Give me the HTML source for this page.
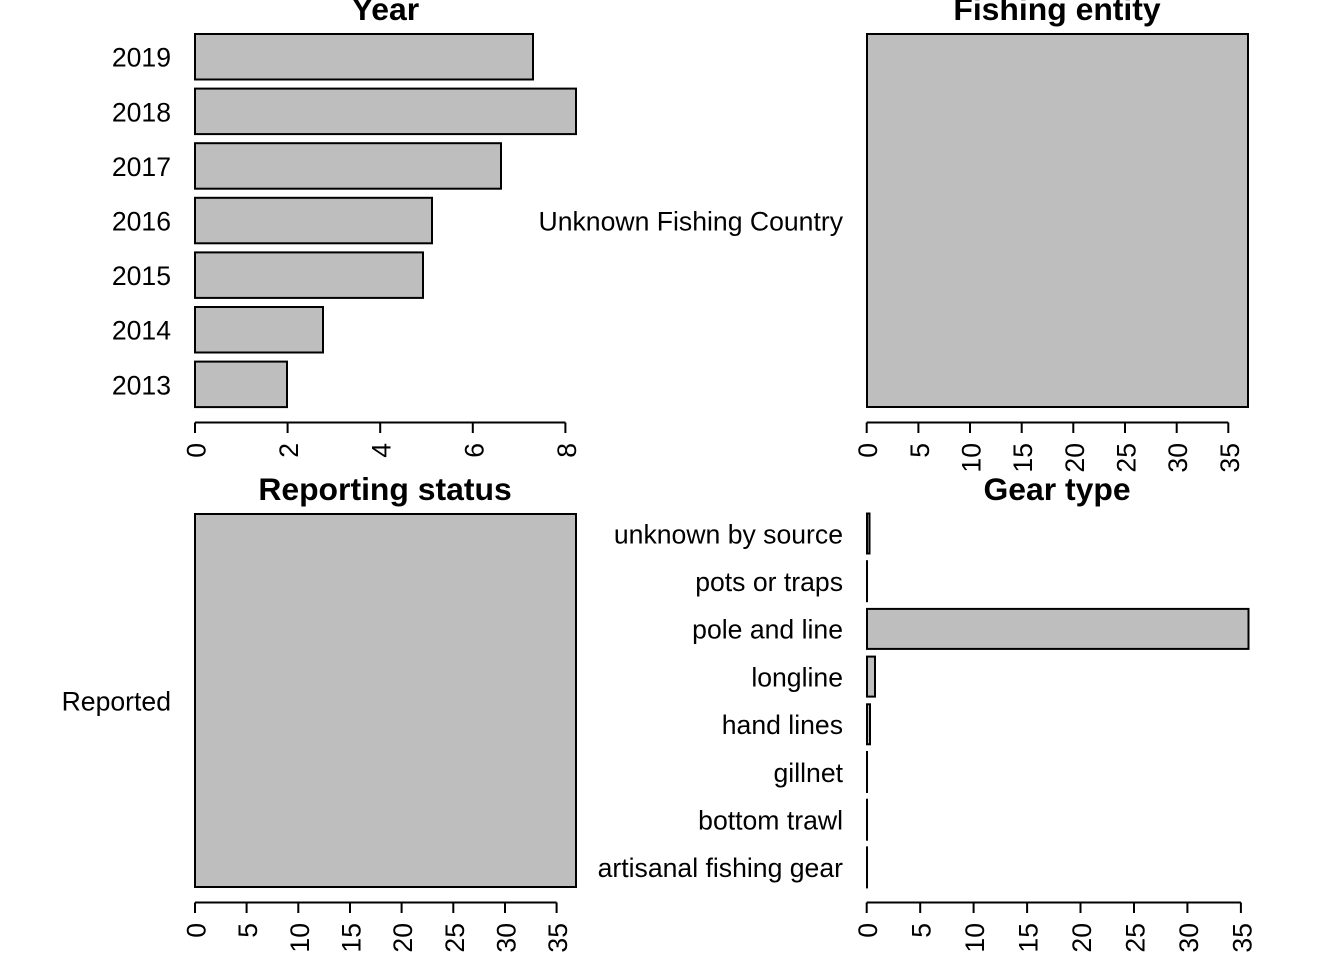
<!DOCTYPE html>
<html>
<head>
<meta charset="utf-8">
<style>
  html, body { margin: 0; padding: 0; background: #ffffff; }
  svg { display: block; }
  text { font-family: "Liberation Sans", Arial, Helvetica, sans-serif; fill: #000; }
  .lab { font-size: 26.6px; }
  .title { font-size: 31.9px; font-weight: bold; }
  .bar { fill: #bebebe; stroke: #000; stroke-width: 2; }
  .ax { stroke: #000; stroke-width: 2; fill: none; }
</style>
</head>
<body>
<svg width="1344" height="960" viewBox="0 0 1344 960" xmlns="http://www.w3.org/2000/svg">
  <rect x="0" y="0" width="1344" height="960" fill="#ffffff"/>

  <!-- ===== Panel 1: Year ===== -->
  <text class="title" x="385.5" y="20" text-anchor="middle">Year</text>
  <rect class="bar" x="195" y="34" width="338" height="45.5"/>
  <rect class="bar" x="195" y="88.6" width="381" height="45.5"/>
  <rect class="bar" x="195" y="143.2" width="306" height="45.5"/>
  <rect class="bar" x="195" y="197.8" width="237" height="45.5"/>
  <rect class="bar" x="195" y="252.4" width="228" height="45.5"/>
  <rect class="bar" x="195" y="307" width="128" height="45.5"/>
  <rect class="bar" x="195" y="361.6" width="92" height="45.5"/>
  <g class="lab" text-anchor="end">
    <text x="171" y="66.7">2019</text>
    <text x="171" y="121.3">2018</text>
    <text x="171" y="175.9">2017</text>
    <text x="171" y="230.5">2016</text>
    <text x="171" y="285.1">2015</text>
    <text x="171" y="339.7">2014</text>
    <text x="171" y="394.3">2013</text>
  </g>
  <path class="ax" d="M195 422.5 H565.4 M195 422.5 V433 M287.6 422.5 V433 M380.2 422.5 V433 M472.8 422.5 V433 M565.4 422.5 V433"/>
  <g class="lab" text-anchor="end">
    <text transform="translate(205.5,443) rotate(-90)">0</text>
    <text transform="translate(298.1,443) rotate(-90)">2</text>
    <text transform="translate(390.7,443) rotate(-90)">4</text>
    <text transform="translate(483.3,443) rotate(-90)">6</text>
    <text transform="translate(575.9,443) rotate(-90)">8</text>
  </g>

  <!-- ===== Panel 2: Fishing entity ===== -->
  <text class="title" x="1057" y="20" text-anchor="middle">Fishing entity</text>
  <rect class="bar" x="867" y="34" width="381" height="373"/>
  <text class="lab" x="843" y="230.5" text-anchor="end">Unknown Fishing Country</text>
  <path class="ax" d="M866.7 422.5 H1228.3 M866.7 422.5 V433 M918.4 422.5 V433 M970 422.5 V433 M1021.7 422.5 V433 M1073.3 422.5 V433 M1125 422.5 V433 M1176.7 422.5 V433 M1228.3 422.5 V433"/>
  <g class="lab" text-anchor="end">
    <text transform="translate(877.2,443) rotate(-90)">0</text>
    <text transform="translate(928.9,443) rotate(-90)">5</text>
    <text transform="translate(980.5,443) rotate(-90)">10</text>
    <text transform="translate(1032.2,443) rotate(-90)">15</text>
    <text transform="translate(1083.8,443) rotate(-90)">20</text>
    <text transform="translate(1135.5,443) rotate(-90)">25</text>
    <text transform="translate(1187.2,443) rotate(-90)">30</text>
    <text transform="translate(1238.8,443) rotate(-90)">35</text>
  </g>

  <!-- ===== Panel 3: Reporting status ===== -->
  <text class="title" x="385" y="500" text-anchor="middle">Reporting status</text>
  <rect class="bar" x="195" y="514" width="381" height="373"/>
  <text class="lab" x="171" y="710.7" text-anchor="end">Reported</text>
  <path class="ax" d="M195 902.5 H556.6 M195 902.5 V913 M246.6 902.5 V913 M298.3 902.5 V913 M350 902.5 V913 M401.6 902.5 V913 M453.3 902.5 V913 M505 902.5 V913 M556.6 902.5 V913"/>
  <g class="lab" text-anchor="end">
    <text transform="translate(205.5,923) rotate(-90)">0</text>
    <text transform="translate(257.1,923) rotate(-90)">5</text>
    <text transform="translate(308.8,923) rotate(-90)">10</text>
    <text transform="translate(360.5,923) rotate(-90)">15</text>
    <text transform="translate(412.1,923) rotate(-90)">20</text>
    <text transform="translate(463.8,923) rotate(-90)">25</text>
    <text transform="translate(515.5,923) rotate(-90)">30</text>
    <text transform="translate(567.1,923) rotate(-90)">35</text>
  </g>

  <!-- ===== Panel 4: Gear type ===== -->
  <text class="title" x="1057" y="500" text-anchor="middle">Gear type</text>
  <rect class="bar" x="867" y="513.5" width="2.5" height="40"/>
  <rect class="bar" x="867" y="561.2" width="0.01" height="40"/>
  <rect class="bar" x="867" y="608.9" width="381.5" height="40"/>
  <rect class="bar" x="867" y="656.6" width="8" height="40"/>
  <rect class="bar" x="867" y="704.3" width="3" height="40"/>
  <rect class="bar" x="867" y="752" width="0.01" height="40"/>
  <rect class="bar" x="867" y="799.7" width="0.01" height="40"/>
  <rect class="bar" x="867" y="847.4" width="0.01" height="40"/>
  <g class="lab" text-anchor="end">
    <text x="843" y="543.3">unknown by source</text>
    <text x="843" y="591">pots or traps</text>
    <text x="843" y="638.7">pole and line</text>
    <text x="843" y="686.4">longline</text>
    <text x="843" y="734.1">hand lines</text>
    <text x="843" y="781.8">gillnet</text>
    <text x="843" y="829.5">bottom trawl</text>
    <text x="843" y="877.2">artisanal fishing gear</text>
  </g>
  <path class="ax" d="M866.7 902.5 H1240.9 M866.7 902.5 V913 M920.2 902.5 V913 M973.6 902.5 V913 M1027.1 902.5 V913 M1080.5 902.5 V913 M1134 902.5 V913 M1187.4 902.5 V913 M1240.9 902.5 V913"/>
  <g class="lab" text-anchor="end">
    <text transform="translate(877.2,923) rotate(-90)">0</text>
    <text transform="translate(930.7,923) rotate(-90)">5</text>
    <text transform="translate(984.1,923) rotate(-90)">10</text>
    <text transform="translate(1037.6,923) rotate(-90)">15</text>
    <text transform="translate(1091,923) rotate(-90)">20</text>
    <text transform="translate(1144.5,923) rotate(-90)">25</text>
    <text transform="translate(1197.9,923) rotate(-90)">30</text>
    <text transform="translate(1251.4,923) rotate(-90)">35</text>
  </g>
</svg>
</body>
</html>
